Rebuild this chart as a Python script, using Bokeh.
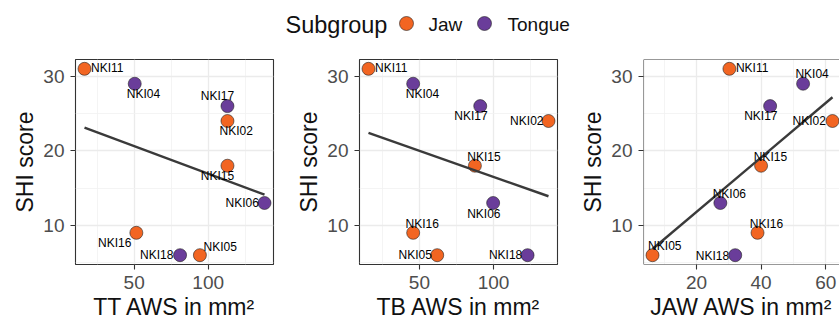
import numpy as np
from bokeh.plotting import figure
from bokeh.models import ColumnDataSource, Range1d, FixedTicker, Span
from bokeh.layouts import column, row
from bokeh.embed import file_html
from bokeh.resources import INLINE
from bokeh.core.properties import value

# ---------------- data ----------------
ids = ["NKI11", "NKI04", "NKI17", "NKI02", "NKI15", "NKI06", "NKI16", "NKI18", "NKI05"]
subgroup = ["Jaw", "Tongue", "Tongue", "Jaw", "Jaw", "Tongue", "Jaw", "Tongue", "Jaw"]
shi_score = [31, 29, 26, 24, 18, 13, 9, 6, 6]
tt_aws = [16.5, 50.4, 113, 113, 113, 138, 51.5, 81, 94.4]
tb_aws = [15.7, 45.8, 91, 137, 87.4, 99.7, 45.8, 122.9, 62]
jaw_aws = [30.2, 53, 42.8, 62.1, 40, 27.4, 38.9, 32, 6.4]

groups = ["Jaw", "Tongue"]
legend_title = "Subgroup"
y_title = "SHI score"
x_titles = ["TT AWS in mm\u00b2", "TB AWS in mm\u00b2", "JAW AWS in mm\u00b2"]
x_ticks = [[50, 100], [50, 100], [20, 40, 60]]
x_minor = [[25, 75, 125], [25, 75, 125], [0, 10, 30, 50, 70]]
y_ticks = [10, 20, 30]
y_minor = [5, 15, 25, 35]

# ---------------- styling / layout ----------------
group_colors = {"Jaw": "#F26522", "Tongue": "#6A3D9A"}
FONT = "Liberation Sans"

# label offsets in screen px (repelled text positions)
lab_dx = [
    [22.8, 8.8, -10, 8.7, -10, -22.3, -21.7, -23.3, 20.3],
    [22.7, 9.3, -9.3, -21.7, 9, -9.3, 9, -22, -22],
    [22.7, 9, -9.3, -23.3, 9.3, 9, 9, -22.7, 12.3],
]
lab_dy = [
    [-1, 10, -10, 10, 10.3, 0, 9.7, 0, -8.3],
    [-1, 10, 10, 0, -8.3, 10.7, -8.7, 0, 0],
    [-1, -9.3, 10, 0, -8.3, -8.7, -8.7, 1, -9],
]

fig_widths = [292, 284, 263]
border_left = [75, 67, 67]
border_right = [19, 19, 0]
FRAME_W = 198
LEG_H = 53
FIG_H = 273

xs_all = [tt_aws, tb_aws, jaw_aws]

y_lo = min(shi_score) - 0.05 * (max(shi_score) - min(shi_score))
y_hi = max(shi_score) + 0.05 * (max(shi_score) - min(shi_score))

panels = []
for i in range(3):
    xs = np.array(xs_all[i], dtype=float)
    ys = np.array(shi_score, dtype=float)
    span = xs.max() - xs.min()
    lo = xs.min() - 0.05 * span
    frame_w = fig_widths[i] - border_left[i] - border_right[i]
    hi = lo + 1.1 * span * (frame_w / FRAME_W)

    p = figure(width=fig_widths[i], height=FIG_H, output_backend="svg",
               toolbar_location=None, x_range=Range1d(lo, hi),
               y_range=Range1d(y_lo, y_hi),
               min_border_left=border_left[i], min_border_right=border_right[i],
               min_border_top=6, min_border_bottom=62)
    p.background_fill_color = "white"
    p.border_fill_color = "white"
    if i < 2:
        p.outline_line_color = "#333333"
        p.outline_line_width = 1.1
    else:
        p.outline_line_color = None
        for loc, dim in [(lo, "height"), (y_lo, "width"), (y_hi, "width")]:
            p.add_layout(Span(location=loc, dimension=dim, line_color="#333333",
                              line_width=1.1))

    p.xaxis.ticker = FixedTicker(ticks=x_ticks[i], minor_ticks=x_minor[i])
    p.yaxis.ticker = FixedTicker(ticks=y_ticks, minor_ticks=y_minor)
    for ax in (p.xaxis, p.yaxis):
        ax.axis_line_color = None
        ax.major_tick_in = 0
        ax.major_tick_out = 5
        ax.major_tick_line_color = "#333333"
        ax.major_tick_line_width = 1.1
        ax.minor_tick_line_color = None
        ax.major_label_text_color = "#4D4D4D"
        ax.major_label_text_font = FONT
        ax.major_label_text_font_size = "19px"
        ax.axis_label_text_font = FONT
        ax.axis_label_text_font_size = "23px"
        ax.axis_label_text_font_style = "normal"
        ax.axis_label_text_color = "#111111"
    p.xaxis.major_label_standoff = 6
    p.xaxis.axis_label_standoff = 2
    p.yaxis.major_label_standoff = 6
    p.yaxis.axis_label_standoff = 2
    p.xaxis.axis_label = x_titles[i]
    p.yaxis.axis_label = y_title

    for g in (p.xgrid, p.ygrid):
        g.grid_line_color = "#EBEBEB"
        g.grid_line_width = 1.3
        g.minor_grid_line_color = "#F1F1F1"
        g.minor_grid_line_width = 0.8

    src = ColumnDataSource(dict(
        x=xs, y=ys, id=ids, color=[group_colors[s] for s in subgroup],
        dx=lab_dx[i], dy=lab_dy[i]))
    p.scatter("x", "y", source=src, size=13, fill_color="color",
              line_color="#222222", line_width=0.6)

    slope, intercept = np.polyfit(xs, ys, 1)
    fx = np.array([xs.min(), xs.max()])
    p.line(fx, slope * fx + intercept, line_color="#3A3A3A", line_width=2.4)

    p.text("x", "y", text="id", source=src, x_offset="dx", y_offset="dy",
           text_align="center", text_baseline="middle",
           text_font=value(FONT), text_font_size="12px", text_color="black")
    panels.append(p)

# ---------------- legend strip ----------------
LW = sum(fig_widths)
leg = figure(width=LW, height=LEG_H, output_backend="svg", toolbar_location=None,
             x_range=Range1d(0, LW), y_range=Range1d(LEG_H, 0),
             min_border=0)
leg.axis.visible = False
leg.grid.visible = False
leg.outline_line_color = None
leg.text(x=[285], y=[24], text=[legend_title], text_align="left",
         text_baseline="middle", text_font=value(FONT), text_font_size="23.5px",
         text_color="#111111")
dot_x = [406, 484]
lab_x = [428, 507]
leg.scatter(x=dot_x, y=[23, 23], size=14,
            fill_color=[group_colors[g] for g in groups],
            line_color="#222222", line_width=0.6)
leg.text(x=lab_x, y=[24, 24], text=groups, text_align="left",
         text_baseline="middle", text_font=value(FONT), text_font_size="19px",
         text_color="#111111")

layout = column(leg, row(*panels, spacing=0), spacing=0)
open("out.html", "w").write(file_html(layout, INLINE))
